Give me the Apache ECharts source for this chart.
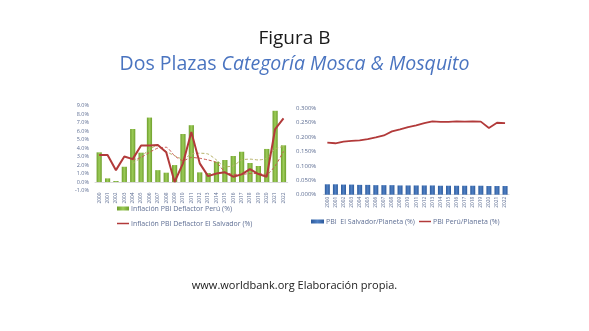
<!DOCTYPE html>
<html>
<head>
<meta charset="utf-8">
<script src="https://cdn.jsdelivr.net/npm/echarts@6/dist/echarts.min.js"></script>
<style>
  html, body { margin: 0; padding: 0; background: #ffffff; }
  #chart { width: 589px; height: 331px; }
</style>
</head>
<body>
<div id="chart"></div>
<script>
// Years shared by both panels
const years = ['2000','2001','2002','2003','2004','2005','2006','2007','2008','2009','2010','2011',
               '2012','2013','2014','2015','2016','2017','2018','2019','2020','2021','2022'];

// Left panel: GDP deflator inflation (%)
const inflPeru = [3.5, 0.43, 0.12, 1.8, 6.25, 3.46, 7.6, 1.4, 1.1, 2.0, 5.66, 6.7,
                  1.14, 1.06, 2.4, 2.6, 3.07, 3.57, 2.24, 1.89, 3.9, 8.4, 4.33];
const inflSalvador = [3.18, 3.18, 1.4, 3.0, 2.7, 4.3, 4.3, 4.36, 3.5, 0.0, 2.2, 5.9,
                      2.2, 0.7, 1.0, 1.14, 0.63, 0.9, 1.53, 0.94, 0.63, 6.25, 7.5];
// Moving-average trend lines (dashed)
const trendPeru = [null, null, null, null, 2.2, 2.9, 3.9, 4.3, 3.6, 3.1, 2.7, 3.3,
                   3.4, 3.3, 2.6, 1.8, 1.9, 2.6, 2.7, 2.6, 2.8, 3.9, 4.2];
const trendSalvador = [null, null, null, null, 2.6, 2.9, 3.5, 4.0, 4.1, 3.1, 2.5, 2.9,
                       2.8, 2.6, 2.3, 1.2, 0.9, 0.9, 1.0, 1.0, 0.9, 1.9, 3.6];

// Right panel: share of world GDP (%)
const shareSalvador = [0.036, 0.036, 0.035, 0.035, 0.034, 0.034, 0.033, 0.033, 0.033, 0.032, 0.032, 0.032,
                       0.032, 0.032, 0.031, 0.031, 0.031, 0.031, 0.031, 0.031, 0.030, 0.030, 0.030];
const sharePeru = [0.180, 0.178, 0.184, 0.186, 0.188, 0.192, 0.198, 0.205, 0.219, 0.226, 0.234, 0.240,
                   0.248, 0.254, 0.252, 0.252, 0.254, 0.253, 0.254, 0.253, 0.231, 0.249, 0.248];

const leftTicks = { min: -1, max: 9, interval: 1 };
const rightTicks = { min: 0, max: 0.3, interval: 0.05 };

const axisColor = '#5f6f94';
const font = 'Open Sans, sans-serif';

const chart = echarts.init(document.getElementById('chart'), null, { renderer: 'canvas' });

const catAxis = (gridIndex) => ({
  type: 'category',
  gridIndex,
  data: years,
  axisTick: { show: false },
  axisLine: { show: true, onZero: true, lineStyle: { color: '#d9d9d9', width: 1 } },
  axisLabel: { rotate: 90, fontSize: 4.8, color: axisColor, fontFamily: font, margin: 2, interval: 0 }
});

const legendText = { fontSize: 7, color: axisColor, fontFamily: font, padding: [0, 0, 0, -3] };

chart.setOption({
  backgroundColor: '#ffffff',
  animation: false,
  title: [
    {
      text: 'Figura B',
      left: 'center', top: 24,
      textStyle: { fontSize: 19, fontWeight: 'normal', color: '#1a1a1a', fontFamily: font }
    },
    {
      text: '{n|Dos Plazas }{i|Categoría Mosca & Mosquito}',
      left: 'center', top: 49,
      textStyle: {
        fontWeight: 'normal',
        rich: {
          n: { fontSize: 19.5, fontWeight: 'normal', color: '#4a74c0', fontFamily: font },
          i: { fontSize: 19.5, fontWeight: 'normal', color: '#4a74c0', fontStyle: 'italic', fontFamily: font }
        }
      }
    },
    {
      text: 'www.worldbank.org Elaboración propia.',
      left: 'center', top: 275,
      textStyle: { fontSize: 11, fontWeight: 'normal', color: '#1a1a1a', fontFamily: font }
    }
  ],
  legend: [
    {
      data: [{ name: 'Inflación PBI Deflactor Perú (%)', icon: 'rect' }],
      left: 112, top: 200, itemWidth: 12, itemHeight: 4,
      textStyle: legendText
    },
    {
      data: [{ name: 'Inflación PBI Deflactor El Salvador (%)', icon: 'rect' }],
      left: 112, top: 215, itemWidth: 12, itemHeight: 1.5,
      textStyle: legendText
    },
    {
      data: [{ name: 'PBI  El Salvador/Planeta (%)', icon: 'rect' }],
      left: 306, top: 213, itemWidth: 13, itemHeight: 4,
      textStyle: legendText
    },
    {
      data: [{ name: 'PBI Perú/Planeta (%)', icon: 'rect' }],
      left: 414, top: 213, itemWidth: 12, itemHeight: 1.5,
      textStyle: legendText
    }
  ],
  grid: [
    { left: 95, top: 105.7, width: 192.7, height: 84.8 },
    { left: 323.3, top: 108, width: 185.8, height: 86.7 }
  ],
  xAxis: [catAxis(0), catAxis(1)],
  yAxis: [
    {
      type: 'value', gridIndex: 0,
      min: leftTicks.min, max: leftTicks.max, interval: leftTicks.interval,
      splitLine: { show: false },
      axisLine: { show: false }, axisTick: { show: false },
      axisLabel: { fontSize: 5.5, color: axisColor, fontFamily: font, margin: 6,
                   formatter: (v) => v.toFixed(1) + '%' }
    },
    {
      type: 'value', gridIndex: 1,
      min: rightTicks.min, max: rightTicks.max, interval: rightTicks.interval,
      splitLine: { show: false },
      axisLine: { show: false }, axisTick: { show: false },
      axisLabel: { fontSize: 6, color: axisColor, fontFamily: font, margin: 7,
                   formatter: (v) => v.toFixed(3) + '%' }
    }
  ],
  series: [
    {
      name: 'Inflación PBI Deflactor Perú (%)',
      type: 'bar', xAxisIndex: 0, yAxisIndex: 0,
      data: inflPeru, barWidth: '62%',
      itemStyle: {
        color: new echarts.graphic.LinearGradient(0, 0, 1, 0, [
          { offset: 0, color: '#6e9e2c' },
          { offset: 0.5, color: '#9ccc58' },
          { offset: 1, color: '#6e9e2c' }
        ])
      }
    },
    {
      name: 'Inflación PBI Deflactor El Salvador (%)',
      type: 'line', xAxisIndex: 0, yAxisIndex: 0,
      data: inflSalvador, symbol: 'none', z: 4,
      lineStyle: { color: '#b23a3a', width: 2 },
      itemStyle: { color: '#b23a3a' }
    },
    {
      name: 'trendPeru',
      type: 'line', xAxisIndex: 0, yAxisIndex: 0,
      data: trendPeru, symbol: 'none', z: 3, smooth: 0.2,
      lineStyle: { color: '#b8b36a', width: 1, type: [3, 2] }
    },
    {
      name: 'trendSalvador',
      type: 'line', xAxisIndex: 0, yAxisIndex: 0,
      data: trendSalvador, symbol: 'none', z: 3, smooth: 0.2,
      lineStyle: { color: '#c8564f', width: 1, type: [3, 2] }
    },
    {
      name: 'PBI  El Salvador/Planeta (%)',
      type: 'bar', xAxisIndex: 1, yAxisIndex: 1,
      data: shareSalvador, barWidth: '62%',
      itemStyle: {
        color: new echarts.graphic.LinearGradient(0, 0, 1, 0, [
          { offset: 0, color: '#2c5a9c' },
          { offset: 0.5, color: '#4f80c4' },
          { offset: 1, color: '#2c5a9c' }
        ])
      }
    },
    {
      name: 'PBI Perú/Planeta (%)',
      type: 'line', xAxisIndex: 1, yAxisIndex: 1,
      data: sharePeru, symbol: 'none',
      lineStyle: { color: '#b23a3a', width: 1.8 },
      itemStyle: { color: '#b23a3a' }
    }
  ]
});
</script>
</body>
</html>
